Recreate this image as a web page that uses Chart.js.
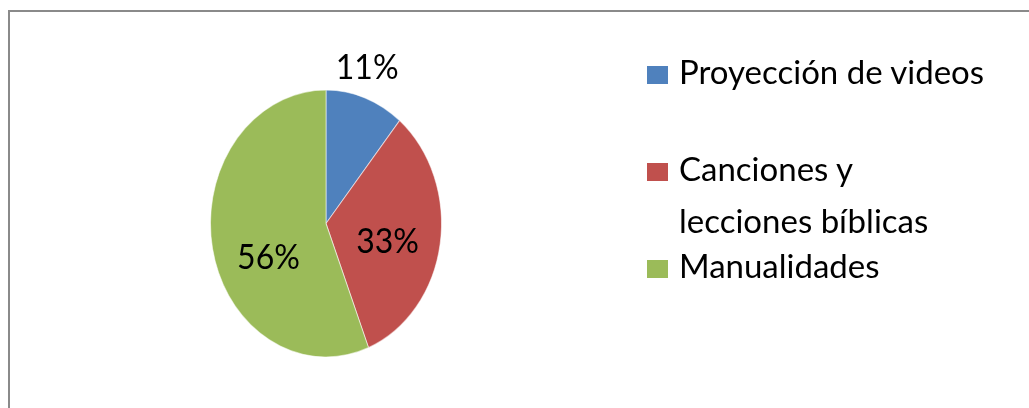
<!DOCTYPE html>
<html>
<head>
<meta charset="utf-8">
<script src="https://cdn.jsdelivr.net/npm/chart.js@4.4.0/dist/chart.umd.min.js"></script>
<style>
  html, body { margin: 0; padding: 0; background: #fff; width: 1029px; height: 408px; overflow: hidden; }
  #frame { position: absolute; left: 8px; top: 10px; width: 1100px; height: 500px;
           border-left: 2px solid #8a8a8a; border-top: 2px solid #8a8a8a; }
  #wrap { position: absolute; left: 0; top: 0; width: 1029px; height: 408px; }
  #legend { position: absolute; left: 647px; top: 45px; font-family: Lato, sans-serif;
            font-size: 33px; color: #000; }
  .item { display: flex; align-items: baseline; line-height: 52px; }
  .item:nth-child(2) { margin-top: 45px; }
  .item:nth-child(3) { margin-top: -7px; }
  .box { display: inline-block; width: 21px; height: 18px; flex: none; margin-right: 11px; }
</style>
</head>
<body>
<div id="frame"></div>
<div id="wrap"><canvas id="chart" width="1029" height="408"></canvas></div>
<div id="legend"></div>
<script>
// Activity categories (multi-line label as an array of lines)
const categories = ['Proyección de videos', ['Canciones y', 'lecciones bíblicas'], 'Manualidades'];
// Share of each activity, in percent
const shares = [11, 33, 56];
// Slice colours
const sliceColors = ['#4F81BD', '#C0504D', '#9BBB59'];

// Vertical stretch applied to the pie so it is drawn as an upright ellipse
const STRETCH = 1.156;

const ellipsePlugin = {
  id: 'ellipse',
  beforeDatasetsDraw(chart) {
    const { ctx, chartArea } = chart;
    const cx = (chartArea.left + chartArea.right) / 2;
    const cy = (chartArea.top + chartArea.bottom) / 2;
    ctx.save();
    ctx.translate(cx, cy);
    ctx.scale(1, STRETCH);
    ctx.translate(-cx, -cy);
  },
  afterDatasetsDraw(chart) {
    chart.ctx.restore();
  }
};

// Percentage labels, placed along each slice's bisector
const pctLabels = {
  id: 'pctLabels',
  afterDraw(chart, args, opts) {
    const ctx = chart.ctx;
    const meta = chart.getDatasetMeta(0);
    const values = chart.data.datasets[0].data;
    ctx.save();
    ctx.font = opts.font;
    ctx.fillStyle = opts.color;
    ctx.textAlign = 'center';
    ctx.textBaseline = 'alphabetic';
    meta.data.forEach((arc, i) => {
      const { x, y, startAngle, endAngle, outerRadius } =
        arc.getProps(['x', 'y', 'startAngle', 'endAngle', 'outerRadius'], true);
      const mid = (startAngle + endAngle) / 2;
      const p = opts.place[i];
      const px = x + Math.cos(mid) * outerRadius * p.f + p.dx;
      const py = y + Math.sin(mid) * outerRadius * p.f * STRETCH + p.dy;
      const text = values[i] + '%';
      const m = ctx.measureText(text);
      const half = (m.actualBoundingBoxAscent - m.actualBoundingBoxDescent) / 2;
      ctx.save();
      ctx.translate(px, py);
      ctx.scale(1, opts.textStretch);
      ctx.fillText(text, 0, half);
      ctx.restore();
    });
    ctx.restore();
  }
};

const chart = new Chart(document.getElementById('chart'), {
  type: 'pie',
  data: {
    labels: categories,
    datasets: [{
      data: shares,
      backgroundColor: sliceColors,
      borderColor: 'rgba(255,255,255,0.55)',
      borderWidth: 1
    }]
  },
  options: {
    responsive: false,
    animation: false,
    events: [],
    layout: { padding: { left: 210, right: 587, top: 90, bottom: 51 } },
    plugins: {
      legend: { display: false },
      tooltip: { enabled: false },
      pctLabels: {
        font: '32px Lato, sans-serif',
        color: '#000',
        textStretch: 1.1,
        place: [
          { f: 1.256, dx: -8, dy: 0 },
          { f: 0.54, dx: 0, dy: 5 },
          { f: 0.507, dx: 0, dy: 20 }
        ]
      }
    }
  },
  plugins: [ellipsePlugin, pctLabels]
});

// HTML legend built from the chart's labels and colours
const legendEl = document.getElementById('legend');
chart.data.labels.forEach((lab, i) => {
  const item = document.createElement('div');
  item.className = 'item';
  const box = document.createElement('span');
  box.className = 'box';
  box.style.background = sliceColors[i];
  const txt = document.createElement('span');
  txt.innerHTML = (Array.isArray(lab) ? lab : [lab]).join('<br>');
  item.appendChild(box);
  item.appendChild(txt);
  legendEl.appendChild(item);
});
</script>
</body>
</html>
